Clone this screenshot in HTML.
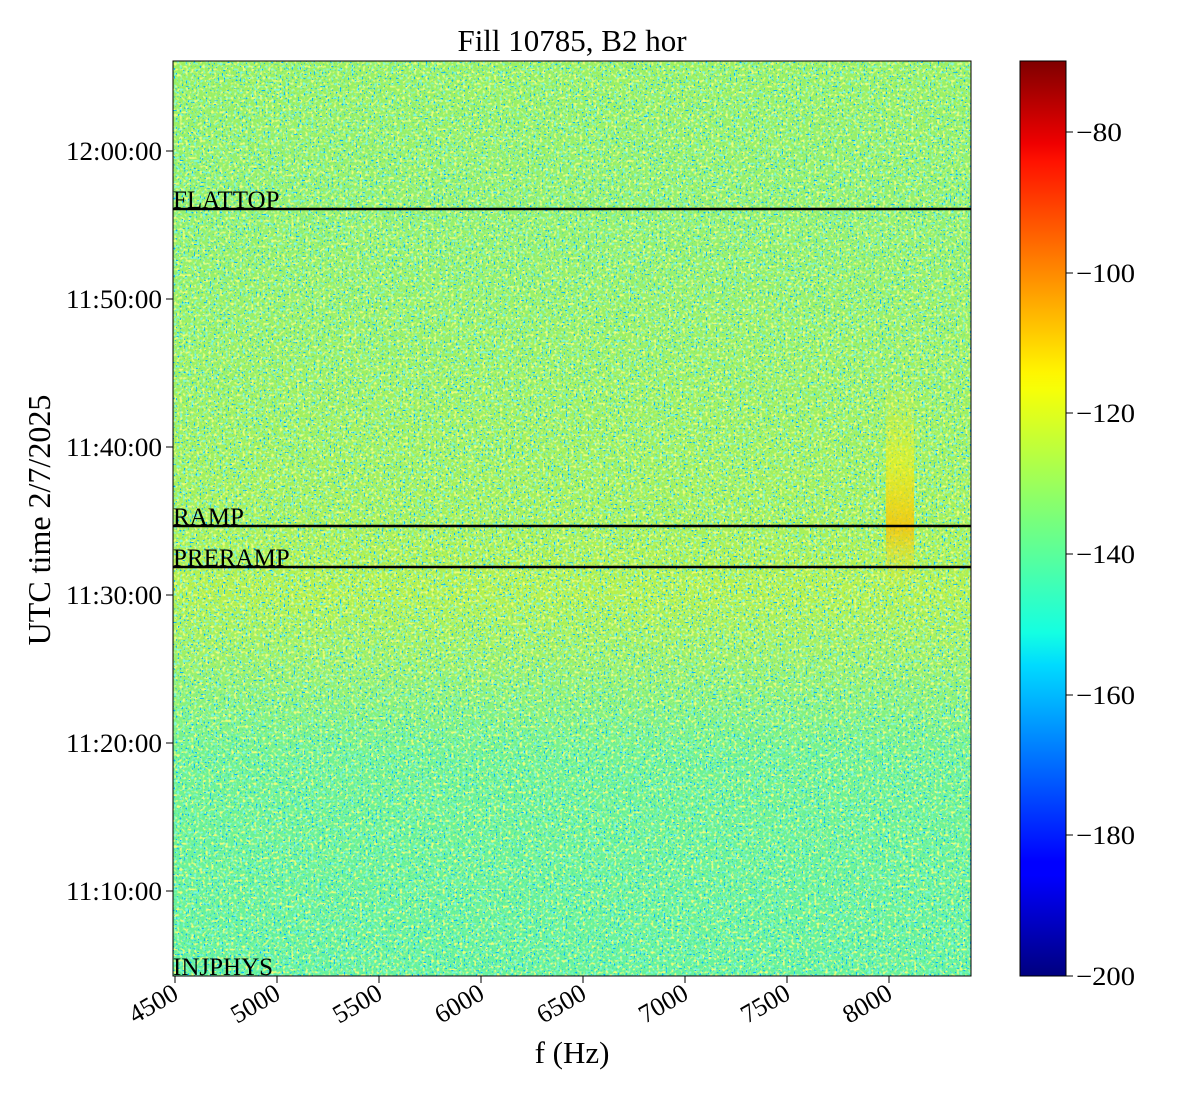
<!DOCTYPE html>
<html><head><meta charset="utf-8"><style>body{margin:0;background:#fff}svg{display:block}text{font-family:"Liberation Serif",serif;fill:#000}</style></head><body>
<svg width="1200" height="1100" viewBox="0 0 1200 1100">
<defs>
<linearGradient id="bg" x1="0" y1="0" x2="0" y2="1">
<stop offset="0" stop-color="#9cf060"/>
<stop offset="0.16" stop-color="#94f06c"/>
<stop offset="0.5" stop-color="#a6f058"/>
<stop offset="0.58" stop-color="#b6f048"/>
<stop offset="0.66" stop-color="#9cf068"/>
<stop offset="0.76" stop-color="#70f290"/>
<stop offset="1" stop-color="#64f29c"/>
</linearGradient>
<linearGradient id="cb" x1="0" y1="1" x2="0" y2="0">
<stop offset="0" stop-color="#00007f"/>
<stop offset="0.11" stop-color="#0000ff"/>
<stop offset="0.125" stop-color="#0000ff"/>
<stop offset="0.34" stop-color="#00dbff"/>
<stop offset="0.375" stop-color="#14ffe2"/>
<stop offset="0.5" stop-color="#7aff7a"/>
<stop offset="0.64" stop-color="#f6ff08"/>
<stop offset="0.66" stop-color="#fff500"/>
<stop offset="0.89" stop-color="#ff1200"/>
<stop offset="0.91" stop-color="#ef0000"/>
<stop offset="1" stop-color="#7f0000"/>
</linearGradient>
<linearGradient id="hot" x1="0" y1="0" x2="0" y2="1">
<stop offset="0" stop-color="#f0f020" stop-opacity="0"/>
<stop offset="0.4" stop-color="#f8f010" stop-opacity="0.6"/>
<stop offset="0.7" stop-color="#ffc000" stop-opacity="0.8"/>
<stop offset="1" stop-color="#f0f020" stop-opacity="0"/>
</linearGradient>
<filter id="n1" x="0" y="0" width="100%" height="100%">
<feTurbulence type="fractalNoise" baseFrequency="0.35" numOctaves="1" seed="3"/>
<feColorMatrix type="matrix" values="0 0 0 0 0.2  0 0 0 0 0.95  0 0 0 0 0.75  4.5 0 0 0 -2.3"/>
</filter>
<filter id="n2" x="0" y="0" width="100%" height="100%">
<feTurbulence type="fractalNoise" baseFrequency="0.35" numOctaves="1" seed="11"/>
<feColorMatrix type="matrix" values="0 0 0 0 0.85  0 0 0 0 0.98  0 0 0 0 0.2  0 5 0 0 -2.6"/>
</filter>
<filter id="n3" x="0" y="0" width="100%" height="100%">
<feTurbulence type="fractalNoise" baseFrequency="0.5" numOctaves="1" seed="21"/>
<feColorMatrix type="matrix" values="0 0 0 0 0.0  0 0 0 0 0.45  0 0 0 0 1  0 0 14 0 -9"/>
</filter>
</defs>
<rect x="173" y="61" width="798" height="915" fill="url(#bg)"/>
<rect x="173" y="61" width="798" height="915" filter="url(#n1)"/>
<rect x="173" y="61" width="798" height="915" filter="url(#n2)"/>
<rect x="173" y="61" width="798" height="915" filter="url(#n3)"/>
<rect x="886" y="380" width="28" height="210" fill="url(#hot)"/>
<rect x="173" y="61" width="798" height="915" fill="none" stroke="#000" stroke-width="1"/>
<g stroke="#000" stroke-width="2.5">
<line x1="173" y1="209" x2="971" y2="209"/>
<line x1="173" y1="526" x2="971" y2="526"/>
<line x1="173" y1="567" x2="971" y2="567"/>
</g>
<g font-size="25">
<text x="173" y="208">FLATTOP</text>
<text x="173" y="525">RAMP</text>
<text x="173" y="566">PRERAMP</text>
<text x="173" y="975">INJPHYS</text>
</g>
<text x="572" y="51" font-size="31" text-anchor="middle">Fill 10785, B2 hor</text>
<g stroke="#000" stroke-width="1">
<line x1="166" y1="151" x2="173" y2="151"/><line x1="166" y1="299" x2="173" y2="299"/><line x1="166" y1="447" x2="173" y2="447"/><line x1="166" y1="595" x2="173" y2="595"/><line x1="166" y1="743" x2="173" y2="743"/><line x1="166" y1="891" x2="173" y2="891"/>
<line x1="175" y1="976" x2="175" y2="983"/><line x1="277" y1="976" x2="277" y2="983"/><line x1="379" y1="976" x2="379" y2="983"/><line x1="481" y1="976" x2="481" y2="983"/><line x1="583" y1="976" x2="583" y2="983"/><line x1="685" y1="976" x2="685" y2="983"/><line x1="787" y1="976" x2="787" y2="983"/><line x1="889" y1="976" x2="889" y2="983"/>
</g>
<g font-size="26">
<text x="66" y="160" textLength="96" lengthAdjust="spacingAndGlyphs">12:00:00</text>
<text x="66" y="308" textLength="96" lengthAdjust="spacingAndGlyphs">11:50:00</text>
<text x="66" y="456" textLength="96" lengthAdjust="spacingAndGlyphs">11:40:00</text>
<text x="66" y="604" textLength="96" lengthAdjust="spacingAndGlyphs">11:30:00</text>
<text x="66" y="752" textLength="96" lengthAdjust="spacingAndGlyphs">11:20:00</text>
<text x="66" y="900" textLength="96" lengthAdjust="spacingAndGlyphs">11:10:00</text>
</g>
<g font-size="26" text-anchor="end">
<text transform="translate(180,998) rotate(-30)">4500</text>
<text transform="translate(282,998) rotate(-30)">5000</text>
<text transform="translate(384,998) rotate(-30)">5500</text>
<text transform="translate(486,998) rotate(-30)">6000</text>
<text transform="translate(588,998) rotate(-30)">6500</text>
<text transform="translate(690,998) rotate(-30)">7000</text>
<text transform="translate(792,998) rotate(-30)">7500</text>
<text transform="translate(894,998) rotate(-30)">8000</text>
</g>
<text x="572" y="1063" font-size="31" text-anchor="middle">f (Hz)</text>
<text transform="translate(50,520) rotate(-90)" font-size="32" text-anchor="middle">UTC time 2/7/2025</text>
<rect x="1020" y="61" width="46" height="915" fill="url(#cb)" stroke="#000" stroke-width="1"/>
<g stroke="#000" stroke-width="1">
<line x1="1066" y1="132" x2="1073" y2="132"/><line x1="1066" y1="273" x2="1073" y2="273"/><line x1="1066" y1="413" x2="1073" y2="413"/><line x1="1066" y1="554" x2="1073" y2="554"/><line x1="1066" y1="695" x2="1073" y2="695"/><line x1="1066" y1="835" x2="1073" y2="835"/><line x1="1066" y1="976" x2="1073" y2="976"/>
</g>
<g font-size="26">
<text x="1076" y="141" textLength="46" lengthAdjust="spacingAndGlyphs">−80</text>
<text x="1076" y="282" textLength="59" lengthAdjust="spacingAndGlyphs">−100</text>
<text x="1076" y="422" textLength="59" lengthAdjust="spacingAndGlyphs">−120</text>
<text x="1076" y="563" textLength="59" lengthAdjust="spacingAndGlyphs">−140</text>
<text x="1076" y="704" textLength="59" lengthAdjust="spacingAndGlyphs">−160</text>
<text x="1076" y="844" textLength="59" lengthAdjust="spacingAndGlyphs">−180</text>
<text x="1076" y="985" textLength="59" lengthAdjust="spacingAndGlyphs">−200</text>
</g>
</svg>
</body></html>
